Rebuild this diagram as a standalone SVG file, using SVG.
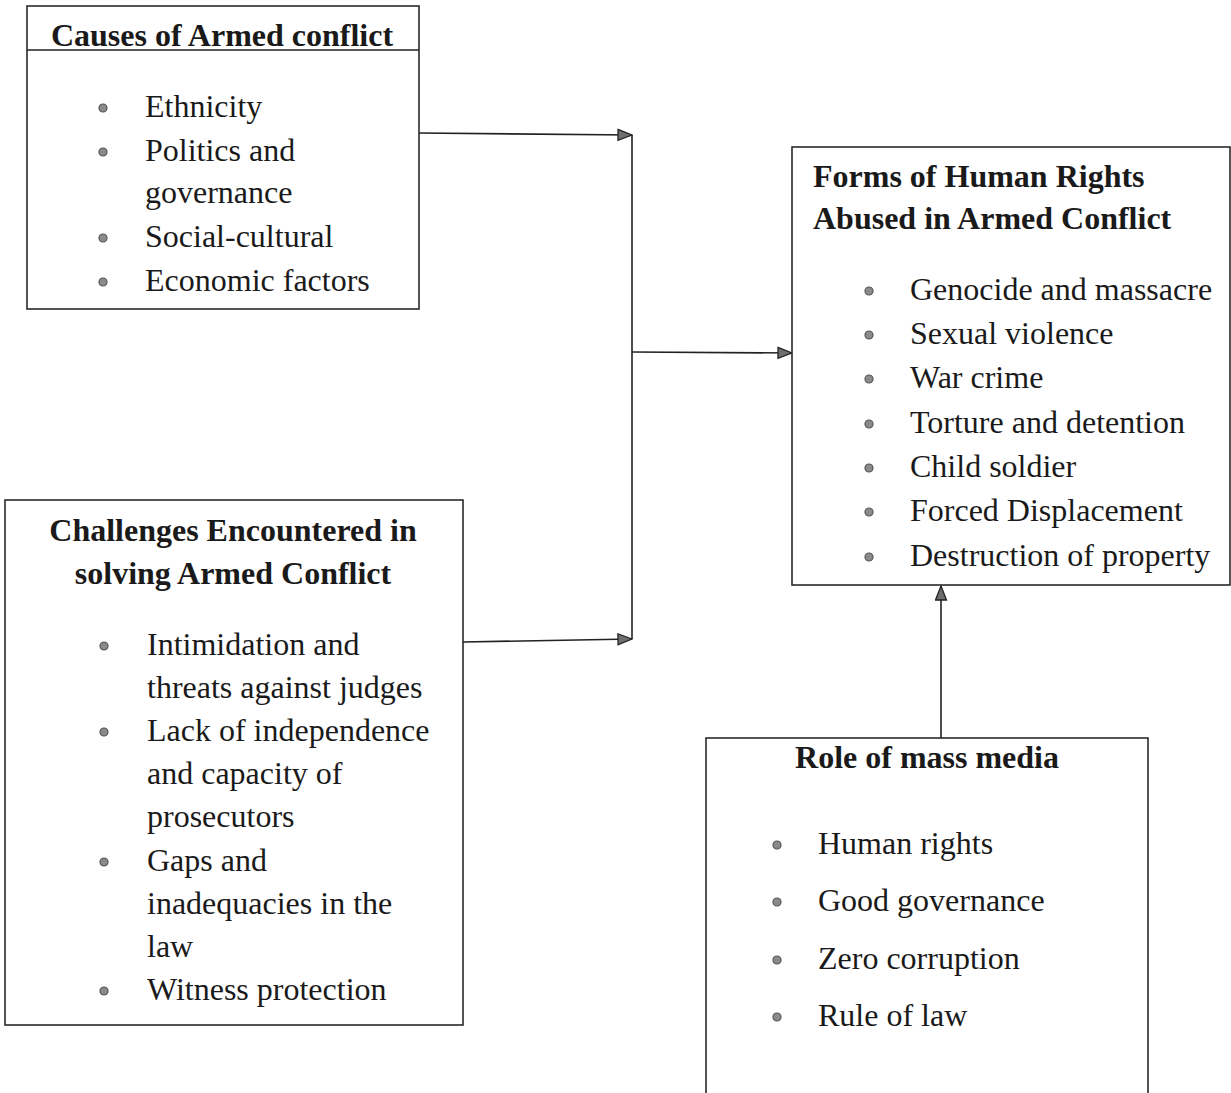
<svg xmlns="http://www.w3.org/2000/svg" width="1231" height="1093" viewBox="0 0 1231 1093">
<style>
.box{fill:#fff;stroke:#2a2a2a;stroke-width:1.6}
.t{font-family:"Liberation Serif","Times New Roman",serif;font-size:32px;fill:#1a1a1a}
.b{font-family:"Liberation Serif","Times New Roman",serif;font-size:32px;font-weight:bold;fill:#1a1a1a}
.bul{fill:#8a8a8a;stroke:#555;stroke-width:1.2}
.con{fill:none;stroke:#222;stroke-width:1.6}
</style>
<defs>
<marker id="ah" markerUnits="userSpaceOnUse" markerWidth="16" markerHeight="14" refX="15" refY="6.5" orient="auto">
<path d="M1,1 L15,6.5 L1,12 Z" fill="#6e6e6e" stroke="#222" stroke-width="1.3"/>
</marker>
</defs>
<rect width="1231" height="1093" fill="#fff"/>
<g id="connectors">
<line class="con" x1="419" y1="133" x2="632" y2="135" marker-end="url(#ah)"/>
<line class="con" x1="463" y1="642" x2="632" y2="639" marker-end="url(#ah)"/>
<line class="con" x1="632" y1="135" x2="632" y2="639"/>
<line class="con" x1="632" y1="352" x2="792" y2="353" marker-end="url(#ah)"/>
<line class="con" x1="941" y1="738" x2="941" y2="586" marker-end="url(#ah)"/>
</g>
<g id="causes">
<rect class="box" x="27" y="6" width="392" height="303"/>
<line class="con" x1="27" y1="50" x2="419" y2="50"/>
<text class="b" x="222" y="46" text-anchor="middle">Causes of Armed conflict</text>
<circle class="bul" cx="103" cy="108" r="4"/><text class="t" x="145" y="117">Ethnicity</text>
<circle class="bul" cx="103" cy="152" r="4"/><text class="t" x="145" y="161">Politics and</text>
<text class="t" x="145" y="203">governance</text>
<circle class="bul" cx="103" cy="238" r="4"/><text class="t" x="145" y="247">Social-cultural</text>
<circle class="bul" cx="103" cy="282" r="4"/><text class="t" x="145" y="291">Economic factors</text>
</g>
<g id="forms">
<rect class="box" x="792" y="147" width="438" height="438"/>
<text class="b" x="813" y="187">Forms of Human Rights</text>
<text class="b" x="813" y="229">Abused in Armed Conflict</text>
<circle class="bul" cx="869" cy="291" r="4"/><text class="t" x="910" y="300">Genocide and massacre</text>
<circle class="bul" cx="869" cy="335" r="4"/><text class="t" x="910" y="344">Sexual violence</text>
<circle class="bul" cx="869" cy="379" r="4"/><text class="t" x="910" y="388">War crime</text>
<circle class="bul" cx="869" cy="424" r="4"/><text class="t" x="910" y="433">Torture and detention</text>
<circle class="bul" cx="869" cy="468" r="4"/><text class="t" x="910" y="477">Child soldier</text>
<circle class="bul" cx="869" cy="512" r="4"/><text class="t" x="910" y="521">Forced Displacement</text>
<circle class="bul" cx="869" cy="557" r="4"/><text class="t" x="910" y="566">Destruction of property</text>
</g>
<g id="challenges">
<rect class="box" x="5" y="500" width="458" height="525"/>
<text class="b" x="233" y="541" text-anchor="middle">Challenges Encountered in</text>
<text class="b" x="233" y="584" text-anchor="middle">solving Armed Conflict</text>
<circle class="bul" cx="104" cy="646" r="4"/><text class="t" x="147" y="655">Intimidation and</text>
<text class="t" x="147" y="698">threats against judges</text>
<circle class="bul" cx="104" cy="732" r="4"/><text class="t" x="147" y="741">Lack of independence</text>
<text class="t" x="147" y="784">and capacity of</text>
<text class="t" x="147" y="827">prosecutors</text>
<circle class="bul" cx="104" cy="862" r="4"/><text class="t" x="147" y="871">Gaps and</text>
<text class="t" x="147" y="914">inadequacies in the</text>
<text class="t" x="147" y="957">law</text>
<circle class="bul" cx="104" cy="991" r="4"/><text class="t" x="147" y="1000">Witness protection</text>
</g>
<g id="media">
<rect class="box" x="706" y="738" width="442" height="400"/>
<text class="b" x="927" y="768" text-anchor="middle">Role of mass media</text>
<circle class="bul" cx="777" cy="845" r="4"/><text class="t" x="818" y="854">Human rights</text>
<circle class="bul" cx="777" cy="902" r="4"/><text class="t" x="818" y="911">Good governance</text>
<circle class="bul" cx="777" cy="960" r="4"/><text class="t" x="818" y="969">Zero corruption</text>
<circle class="bul" cx="777" cy="1017" r="4"/><text class="t" x="818" y="1026">Rule of law</text>
</g>
</svg>
